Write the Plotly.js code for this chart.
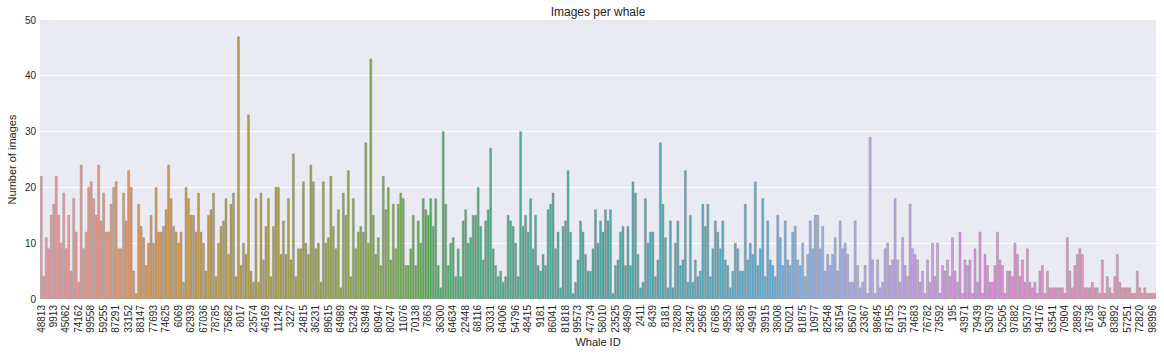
<!DOCTYPE html>
<html>
<head>
<meta charset="utf-8">
<script src="https://cdn.plot.ly/plotly-3.0.1.min.js"></script>
<style>
  html, body { margin: 0; padding: 0; background: #ffffff; }
  #chart { width: 1164px; height: 357px; }
</style>
</head>
<body>
<div id="chart"></div>
<script>
// Tick labels: whale IDs shown under every 5th bar
const whaleLabels = [
  "48813","9913","45062","74162","99558","59255","87291","33152","88147","77693",
  "74625","6069","62939","67036","78785","75682","8017","23574","46169","11242",
  "3227","24815","36231","89615","64989","52342","63948","80947","80247","11076",
  "70138","7863","36300","64634","22448","68116","30331","64006","54796","48415",
  "9181","86041","81818","99573","47734","58010","23525","48490","2411","8439",
  "8181","78280","23847","29569","67685","49530","48386","49491","39915","38008",
  "50021","81875","10977","82548","36154","85670","23367","98645","87155","59173",
  "74683","76782","73592","195","43971","79439","53079","52505","97882","95370",
  "94176","63541","70904","28892","16738","5487","83892","57251","72820","98996"
];

// Number of images per whale, one value per bar (447 whales)
const imageCounts = [
  22,4,11,9,15,17,22,15,10,19, 9,15,5,18,12,3,24,9,12,20,
  21,18,15,24,14,19,12,12,17,20, 21,9,9,19,14,23,20,5,1,17,
  13,11,6,10,15,10,20,12,12,13, 16,24,18,13,12,10,12,3,20,18,
  15,15,12,19,12,10,5,15,16,19, 4,10,13,14,18,8,17,19,4,47,
  6,10,8,33,5,3,18,3,19,7, 13,18,4,13,20,20,8,14,8,18,
  7,26,4,9,9,21,10,8,24,21, 9,10,3,21,10,11,22,13,9,16,
  2,19,15,23,4,18,9,12,13,12, 28,10,43,15,8,11,6,22,16,20,
  7,17,9,17,19,18,6,6,9,15, 6,14,10,18,16,15,18,13,18,6,
  2,30,17,6,10,11,4,9,4,14, 16,10,11,15,15,20,13,7,14,16,
  27,9,6,4,5,3,4,15,14,13, 10,4,30,13,15,12,18,9,15,6,
  5,8,6,16,17,19,9,12,2,13, 14,23,12,1,3,7,14,12,8,5,
  5,9,16,10,14,12,16,14,16,1, 6,7,12,13,6,13,6,21,19,8,
  2,3,18,10,12,12,4,7,28,17, 11,2,14,2,10,14,6,7,23,3,
  15,3,7,4,5,17,13,17,4,9, 14,12,9,14,7,6,2,5,10,9,
  5,5,17,7,10,8,21,6,9,18, 4,14,7,6,4,15,11,6,14,7,
  6,12,13,7,6,10,4,8,14,9, 15,15,9,13,5,8,6,8,11,5,
  14,9,10,8,3,3,14,6,2,3, 6,1,29,7,1,7,2,3,9,10,
  6,7,18,7,3,11,6,4,17,9, 8,7,3,5,1,7,3,10,4,10,
  1,6,5,7,4,11,5,3,12,1, 7,6,7,1,9,3,12,1,8,6,
  3,3,6,12,7,6,1,5,5,4, 10,8,4,7,3,9,3,2,3,1,
  5,6,1,5,2,2,2,2,2,2, 1,11,5,2,6,8,9,8,2,2,
  2,3,2,2,1,7,1,4,2,1, 4,8,3,2,2,2,2,1,1,5,
  2,1,2,1,1,1,1
];
const labelStep = 5;

// ---- seaborn-like husl palette (l=.7) desaturated to .75 ----
const M = [[3.2406, -1.5372, -0.4986], [-0.9689, 1.8758, 0.0415], [0.0557, -0.2040, 1.0570]];
const refU = 0.19784, refV = 0.46834, labE = 0.008856, labK = 903.3;
function maxChroma(L, H) {
  const hr = H * Math.PI / 180, sinH = Math.sin(hr), cosH = Math.cos(hr);
  const sub1 = Math.pow(L + 16, 3) / 1560896;
  const sub2 = sub1 > labE ? sub1 : L / labK;
  let res = Infinity;
  for (const [m1, m2, m3] of M) {
    const top = (0.99915 * m1 + 1.05122 * m2 + 1.14460 * m3) * sub2;
    const rb = 0.86330 * m3 - 0.17266 * m2;
    const lb = 0.12949 * m3 - 0.38848 * m1;
    const bottom = (rb * sinH + lb * cosH) * sub2;
    for (const t of [0, 1]) {
      const C = L * (top - 1.05122 * t) / (bottom + 0.17266 * sinH * t);
      if (C > 0 && C < res) res = C;
    }
  }
  return res;
}
function fromLinear(c) { return c <= 0.0031308 ? 12.92 * c : 1.055 * Math.pow(c, 1 / 2.4) - 0.055; }
function huslToRgb(H, S, L) {
  const C = maxChroma(L, H) / 100 * S;
  const hr = H * Math.PI / 180;
  const U = Math.cos(hr) * C, V = Math.sin(hr) * C;
  const t = (L + 16) / 116;
  const varY = Math.pow(t, 3) > labE ? Math.pow(t, 3) : (116 * t - 16) / labK;
  const varU = U / (13 * L) + refU, varV = V / (13 * L) + refV;
  const Y = varY;
  const X = 0 - (9 * Y * varU) / ((varU - 4) * varV - varU * varV);
  const Z = (9 * Y - 15 * varV * Y - varV * X) / (3 * varV);
  return M.map(r => Math.min(1, Math.max(0, fromLinear(r[0] * X + r[1] * Y + r[2] * Z))));
}
function rgbToHls(r, g, b) {
  const mx = Math.max(r, g, b), mn = Math.min(r, g, b);
  const l = (mx + mn) / 2;
  if (mx === mn) return [0, l, 0];
  const d = mx - mn;
  const s = l <= 0.5 ? d / (mx + mn) : d / (2 - mx - mn);
  let h;
  if (mx === r) h = ((g - b) / d) % 6;
  else if (mx === g) h = (b - r) / d + 2;
  else h = (r - g) / d + 4;
  h = ((h / 6) % 1 + 1) % 1;
  return [h, l, s];
}
function hlsToRgb(h, l, s) {
  if (s === 0) return [l, l, l];
  const m2 = l <= 0.5 ? l * (1 + s) : l + s - l * s;
  const m1 = 2 * l - m2;
  const v = (hue) => {
    hue = ((hue % 1) + 1) % 1;
    if (hue < 1 / 6) return m1 + (m2 - m1) * hue * 6;
    if (hue < 0.5) return m2;
    if (hue < 2 / 3) return m1 + (m2 - m1) * (2 / 3 - hue) * 6;
    return m1;
  };
  return [v(h + 1 / 3), v(h), v(h - 1 / 3)];
}
const n = imageCounts.length;
const barColors = [];
for (let i = 0; i < n; i++) {
  let h = (i / n + 0.01) % 1 * 359;
  const rgb = huslToRgb(h, 0.9 * 99, 0.7 * 99);
  const [hh, ll, ss] = rgbToHls(...rgb);
  const d = hlsToRgb(hh, ll, ss * 0.75);
  barColors.push('rgb(' + d.map(c => Math.round(c * 255)).join(',') + ')');
}

const xIdx = imageCounts.map((_, i) => i);
const tickVals = whaleLabels.map((_, k) => k * labelStep);

const textColor = '#262626';
const font = 'Liberation Sans, Arial, sans-serif';

Plotly.newPlot('chart', [{
  type: 'bar',
  x: xIdx,
  y: imageCounts,
  marker: { color: barColors, line: { color: 'rgba(140,140,140,0.9)', width: 0.5 } },
  hoverinfo: 'y'
}], {
  width: 1164, height: 357,
  margin: { l: 40, r: 8, t: 20, b: 58 },
  paper_bgcolor: '#ffffff',
  plot_bgcolor: '#EAEAF2',
  bargap: 0.2,
  showlegend: false,
  font: { family: font, color: textColor, size: 10 },
  title: { text: 'Images per whale', font: { family: font, size: 12, color: textColor },
           x: 0.5, xref: 'paper', y: 1 - 12 / 357, yref: 'container', yanchor: 'middle' },
  xaxis: {
    range: [-0.5, n - 0.5],
    tickmode: 'array', tickvals: tickVals, ticktext: whaleLabels,
    tickangle: -90, tickfont: { size: 10, color: textColor },
    ticklabelstandoff: 3,
    showgrid: false, zeroline: false, showline: false, ticks: '',
    title: { text: 'Whale ID', font: { size: 11, color: textColor }, standoff: 6 }
  },
  yaxis: {
    range: [0, 50], tickvals: [0, 10, 20, 30, 40, 50],
    tickfont: { size: 10, color: textColor },
    ticklabelstandoff: 3,
    showgrid: true, gridcolor: '#ffffff', gridwidth: 1,
    zeroline: false, showline: false, ticks: '',
    title: { text: 'Number of images', font: { size: 11, color: textColor }, standoff: 6 }
  }
}, { displayModeBar: false, staticPlot: true });
</script>
</body>
</html>
